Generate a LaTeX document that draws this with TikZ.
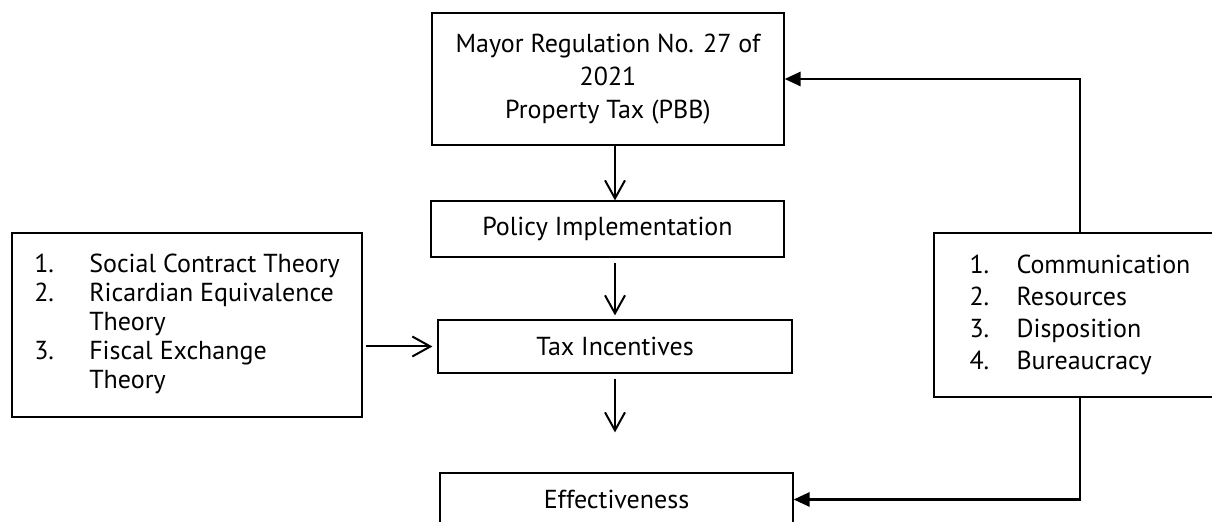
\documentclass[tikz,border=0pt]{standalone}
\usepackage{fontspec}
\setmainfont{PT Sans}
\usetikzlibrary{arrows.meta}

\begin{document}
\begin{tikzpicture}[x=0.5pt,y=-0.5pt,
                    font=\fontsize{13}{16.5}\selectfont,
                    box/.style={draw,line width=0.6pt,inner sep=0pt,align=center},
                    arr/.style={-{Straight Barb[length=9pt,width=10pt]},line width=1pt},
                    fb/.style={-{Triangle[length=8pt,width=7pt]},line width=1.4pt}]
  \useasboundingbox (0,0) rectangle (1212,522);
  \clip (0,0) rectangle (1212,522);

  % main column
  \node[box,minimum width=176pt,minimum height=66pt]   (top)    at (608,79)
       {Mayor Regulation No. 27 of\\2021\\Property Tax (PBB)};
  \node[box,minimum width=176.5pt,minimum height=28pt] (policy) at (607.5,229) {Policy Implementation};
  \node[box,minimum width=177pt,minimum height=26.5pt] (tax)    at (615,346.5) {Tax Incentives};
  \node[box,minimum width=176.5pt,minimum height=26.5pt] (eff)  at (616.5,499.5) {Effectiveness};

  % side boxes
  \node[box,minimum width=175pt,minimum height=92pt,font=\fontsize{13}{14.5}\selectfont] (theory) at (187,325)
       {\begin{tabular}{@{}p{27.5pt}@{}l@{}}
         1. & Social Contract Theory\\
         2. & Ricardian Equivalence\\
            & Theory\\
         3. & Fiscal Exchange\\
            & Theory
        \end{tabular}};
  \node[box,minimum width=146pt,minimum height=82pt,font=\fontsize{13}{16}\selectfont] (factor) at (1080,315)
       {\begin{tabular}{@{}p{23.5pt}@{}l@{}}
         1. & Communication\\
         2. & Resources\\
         3. & Disposition\\
         4. & Bureaucracy
        \end{tabular}};

  % connectors
  \draw[arr] (top.south -| tax.north) -- (policy.north -| tax.north);
  \draw[arr,shorten <=2.5pt,shorten >=2pt] (policy.south -| tax.north) -- (tax.north);
  \draw[arr,shorten <=2.5pt,shorten >=20pt] (tax.south) -- (eff.north -| tax.south);
  \draw[arr,shorten <=1.5pt,shorten >=2.5pt] (theory.east |- tax.west) -- (tax.west);
  \draw[fb] (factor.north) |- (top.east);
  \draw[fb] (factor.south) |- (eff.east);
\end{tikzpicture}
\end{document}
